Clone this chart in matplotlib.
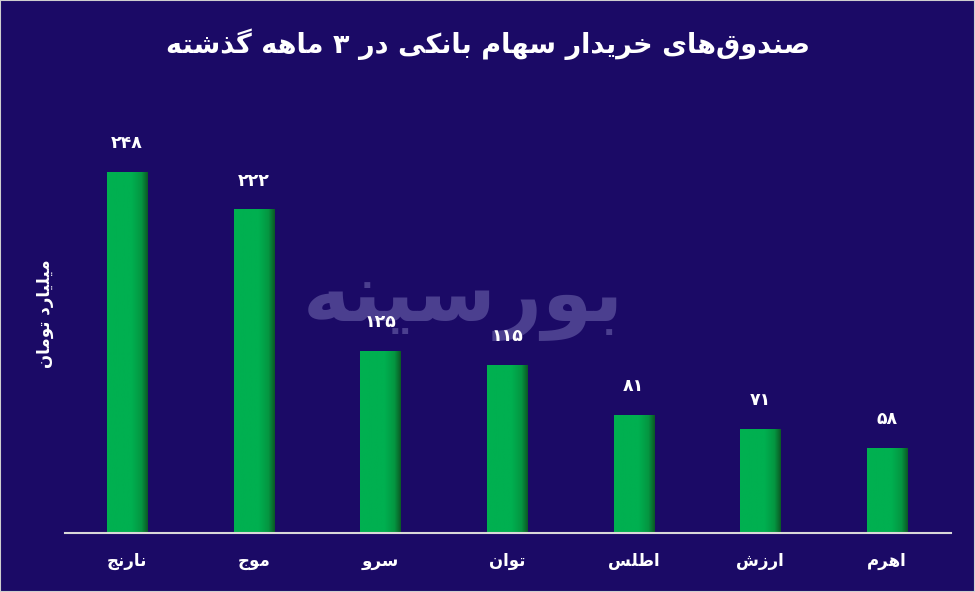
import matplotlib
matplotlib.use('Agg')

import numpy as np
import matplotlib.pyplot as plt
from matplotlib.colors import LinearSegmentedColormap

# ===============================
# Data
# ===============================

funds = ["نارنج", "موج", "سرو", "توان", "اطلس", "ارزش", "اهرم"]
values = [248, 222, 125, 115, 81, 71, 58]
title = "صندوق‌های خریدار سهام بانکی در ۳ ماهه گذشته"
ylabel = "میلیارد تومان"
watermark = "بورسینه"

# ===============================
# Small Persian shaper (matplotlib has no RTL shaping)
# ===============================

FORMS = {
    'ا': ('\uFE8D', '\uFE8E'), 'ب': ('\uFE8F', '\uFE90', '\uFE91', '\uFE92'),
    'ت': ('\uFE95', '\uFE96', '\uFE97', '\uFE98'), 'ج': ('\uFE9D', '\uFE9E', '\uFE9F', '\uFEA0'),
    'خ': ('\uFEA5', '\uFEA6', '\uFEA7', '\uFEA8'), 'د': ('\uFEA9', '\uFEAA'),
    'ذ': ('\uFEAB', '\uFEAC'), 'ر': ('\uFEAD', '\uFEAE'), 'ز': ('\uFEAF', '\uFEB0'),
    'س': ('\uFEB1', '\uFEB2', '\uFEB3', '\uFEB4'), 'ش': ('\uFEB5', '\uFEB6', '\uFEB7', '\uFEB8'),
    'ص': ('\uFEB9', '\uFEBA', '\uFEBB', '\uFEBC'), 'ط': ('\uFEC1', '\uFEC2', '\uFEC3', '\uFEC4'),
    'ق': ('\uFED5', '\uFED6', '\uFED7', '\uFED8'), 'ل': ('\uFEDD', '\uFEDE', '\uFEDF', '\uFEE0'),
    'م': ('\uFEE1', '\uFEE2', '\uFEE3', '\uFEE4'), 'ن': ('\uFEE5', '\uFEE6', '\uFEE7', '\uFEE8'),
    'ه': ('\uFEE9', '\uFEEA', '\uFEEB', '\uFEEC'), 'و': ('\uFEED', '\uFEEE'),
    'ک': ('\uFB8E', '\uFB8F', '\uFB90', '\uFB91'), 'گ': ('\uFB92', '\uFB93', '\uFB94', '\uFB95'),
    'ی': ('\uFBFC', '\uFBFD', '\uFBFE', '\uFBFF'),
}


def shape(text):
    chars = list(text)
    out = []
    for i, c in enumerate(chars):
        if c not in FORMS:
            out.append(c if c != '\u200c' else '')
            continue
        prev = chars[i - 1] if i > 0 else None
        nxt = chars[i + 1] if i + 1 < len(chars) else None
        join_prev = prev in FORMS and len(FORMS[prev]) == 4
        join_next = nxt in FORMS and len(FORMS[c]) == 4
        f = FORMS[c]
        if join_prev and join_next:
            out.append(f[3])
        elif join_prev:
            out.append(f[1])
        elif join_next:
            out.append(f[2])
        else:
            out.append(f[0])
    return ''.join(out)[::-1]


def fa_num(n):
    return str(n).translate(str.maketrans('0123456789', '۰۱۲۳۴۵۶۷۸۹'))


# ===============================
# Plot
# ===============================

bg = '#1b0a66'
plt.rcParams['font.family'] = ['DejaVu Sans']

fig = plt.figure(figsize=(9.75, 5.92), dpi=100, facecolor=bg)
ax = fig.add_axes([65 / 975, 59 / 592, 886 / 975, 433 / 592])
ax.set_facecolor(bg)

# watermark behind everything in the axes
ax.text(0.475, 0.49, shape(watermark), transform=fig.transFigure, ha='center', va='center',
        color='#4b3f8f', fontsize=58, fontweight='bold', zorder=0)

x = np.arange(len(funds))
w = 0.316
cmap = LinearSegmentedColormap.from_list(
    'g', [(0, '#00b050'), (0.6, '#00b050'), (0.85, '#049641'), (1, '#0b5a25')])
grad = np.linspace(0, 1, 64).reshape(1, -1)

for xi, v in zip(x, values):
    ax.imshow(grad, cmap=cmap, aspect='auto', extent=(xi - w / 2, xi + w / 2, 0, v), zorder=2)
    ax.text(xi, v + 14, fa_num(v), ha='center', va='bottom', color='white',
            fontsize=12.5, fontweight='bold', zorder=3)

ax.set_xlim(-0.49, 6.505)
ax.set_ylim(0, 297.5)
ax.set_xticks(x)
ax.set_xticklabels([shape(f) for f in funds], color='white', fontsize=12, fontweight='bold')
ax.tick_params(axis='x', length=0, pad=14)
ax.set_yticks([])
for s in ['top', 'right', 'left']:
    ax.spines[s].set_visible(False)
ax.spines['bottom'].set_color('#d9d9d9')
ax.spines['bottom'].set_linewidth(1.5)

fig.text(0.50, 0.925, shape(title), ha='center', va='center', color='white',
         fontsize=19.5, fontweight='bold')
fig.text(0.046, 0.47, shape(ylabel), ha='center', va='center', color='white',
         fontsize=12, fontweight='bold', rotation=90)

fig.patches.append(plt.Rectangle((0, 0), 1, 1, transform=fig.transFigure, fill=False,
                                 edgecolor='#cfcfcf', linewidth=1.5))

plt.savefig('out.png', dpi=100, facecolor=bg)
